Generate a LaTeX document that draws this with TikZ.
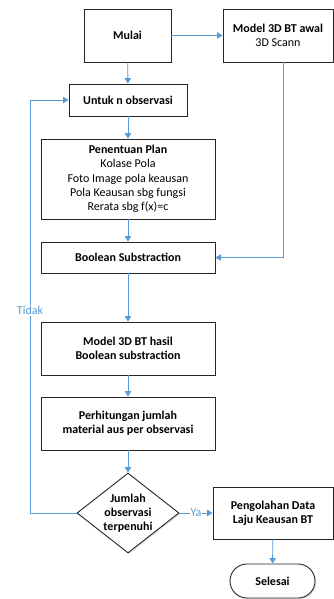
\documentclass[tikz,border=0pt]{standalone}
\usepackage{fontspec}
\setmainfont{Carlito}
\usetikzlibrary{arrows.meta,shapes.geometric,shapes.misc,shadows}
\definecolor{arrowblue}{HTML}{5B9BD5}
\tikzset{
  box/.style={draw=black!85, line width=0.9pt, fill=white, rectangle, align=center, inner sep=1pt,
    font=\fontsize{12}{14.2}\selectfont,
    drop shadow={shadow xshift=1.2pt, shadow yshift=-1.2pt, fill=black!25, opacity=0.5}},
  flow/.style={draw=arrowblue, line width=0.9pt, -{Triangle[width=6.5pt,length=5.5pt]}},
  lbl/.style={text=arrowblue, fill=white, inner sep=1pt, font=\fontsize{12}{14}\selectfont}
}
\begin{document}
\begin{tikzpicture}[x=1pt,y=-1pt]
\useasboundingbox (0,0) rectangle (334,599);
\node[box, minimum width=87pt, minimum height=53pt] (mulai) at (127.5,35.5) {\textbf{Mulai}};
\node[box, minimum width=110pt, minimum height=53pt] (model) at (278,35.5) {\textbf{Model 3D BT awal}\\3D Scann};
\node[box, minimum width=118pt, minimum height=32pt] (untuk) at (128,100) {\textbf{Untuk n observasi}};
\node[box, minimum width=174pt, minimum height=80pt] (plan) at (128,179) {\textbf{Penentuan Plan}\\Kolase Pola\\Foto Image pola keausan\\Pola Keausan sbg fungsi\\Rerata sbg f(x)=c};
\node[box, minimum width=174pt, minimum height=31pt] (bool) at (128,257.5) {\textbf{Boolean Substraction}};
\node[box, minimum width=174pt, minimum height=53pt] (hasil) at (128,348.5) {\textbf{Model 3D BT hasil}\\\textbf{Boolean substraction}};
\node[box, minimum width=174pt, minimum height=53pt] (hitung) at (128,423.5) {\textbf{Perhitungan jumlah}\\\textbf{material aus per observasi}};
\node[box, diamond, minimum width=102pt, minimum height=80pt, inner sep=0pt] (cek) at (128,513) {};
\node[align=center, font=\fontsize{12}{14.2}\selectfont\bfseries] (cektext) at (128,513) {Jumlah\\observasi\\terpenuhi};
\node[box, minimum width=120pt, minimum height=52pt] (olah) at (273,513) {\textbf{Pengolahan Data}\\\textbf{Laju Keausan BT}};
\node[box, rounded rectangle, minimum width=87pt, minimum height=34pt] (selesai) at (272.5,581) {\textbf{Selesai}};
\coordinate (modeldown) at (283,62);
\coordinate (loopbottom) at (30,513);
\coordinate (looptop) at (30,100);

\draw[flow] (mulai) -- (model);
\draw[flow] (mulai) -- (untuk);
\draw[flow] (untuk) -- (plan);
\draw[flow] (plan) -- (bool);
\draw[flow] (modeldown) |- (bool.east);
\draw[flow] (bool) -- (hasil);
\draw[flow] (hasil) -- (hitung);
\draw[flow] (hitung) -- (cek.north);
\draw[flow] (cek.east) -- node[lbl, pos=0.5] (ya) {Ya} (olah.west);
\draw[flow] (cek.west) -- (loopbottom) -- node[lbl, pos=0.49] (tidak) {Tidak} (looptop) -- (untuk.west);
\draw[flow] (olah) -- (selesai);
\end{tikzpicture}
\end{document}
